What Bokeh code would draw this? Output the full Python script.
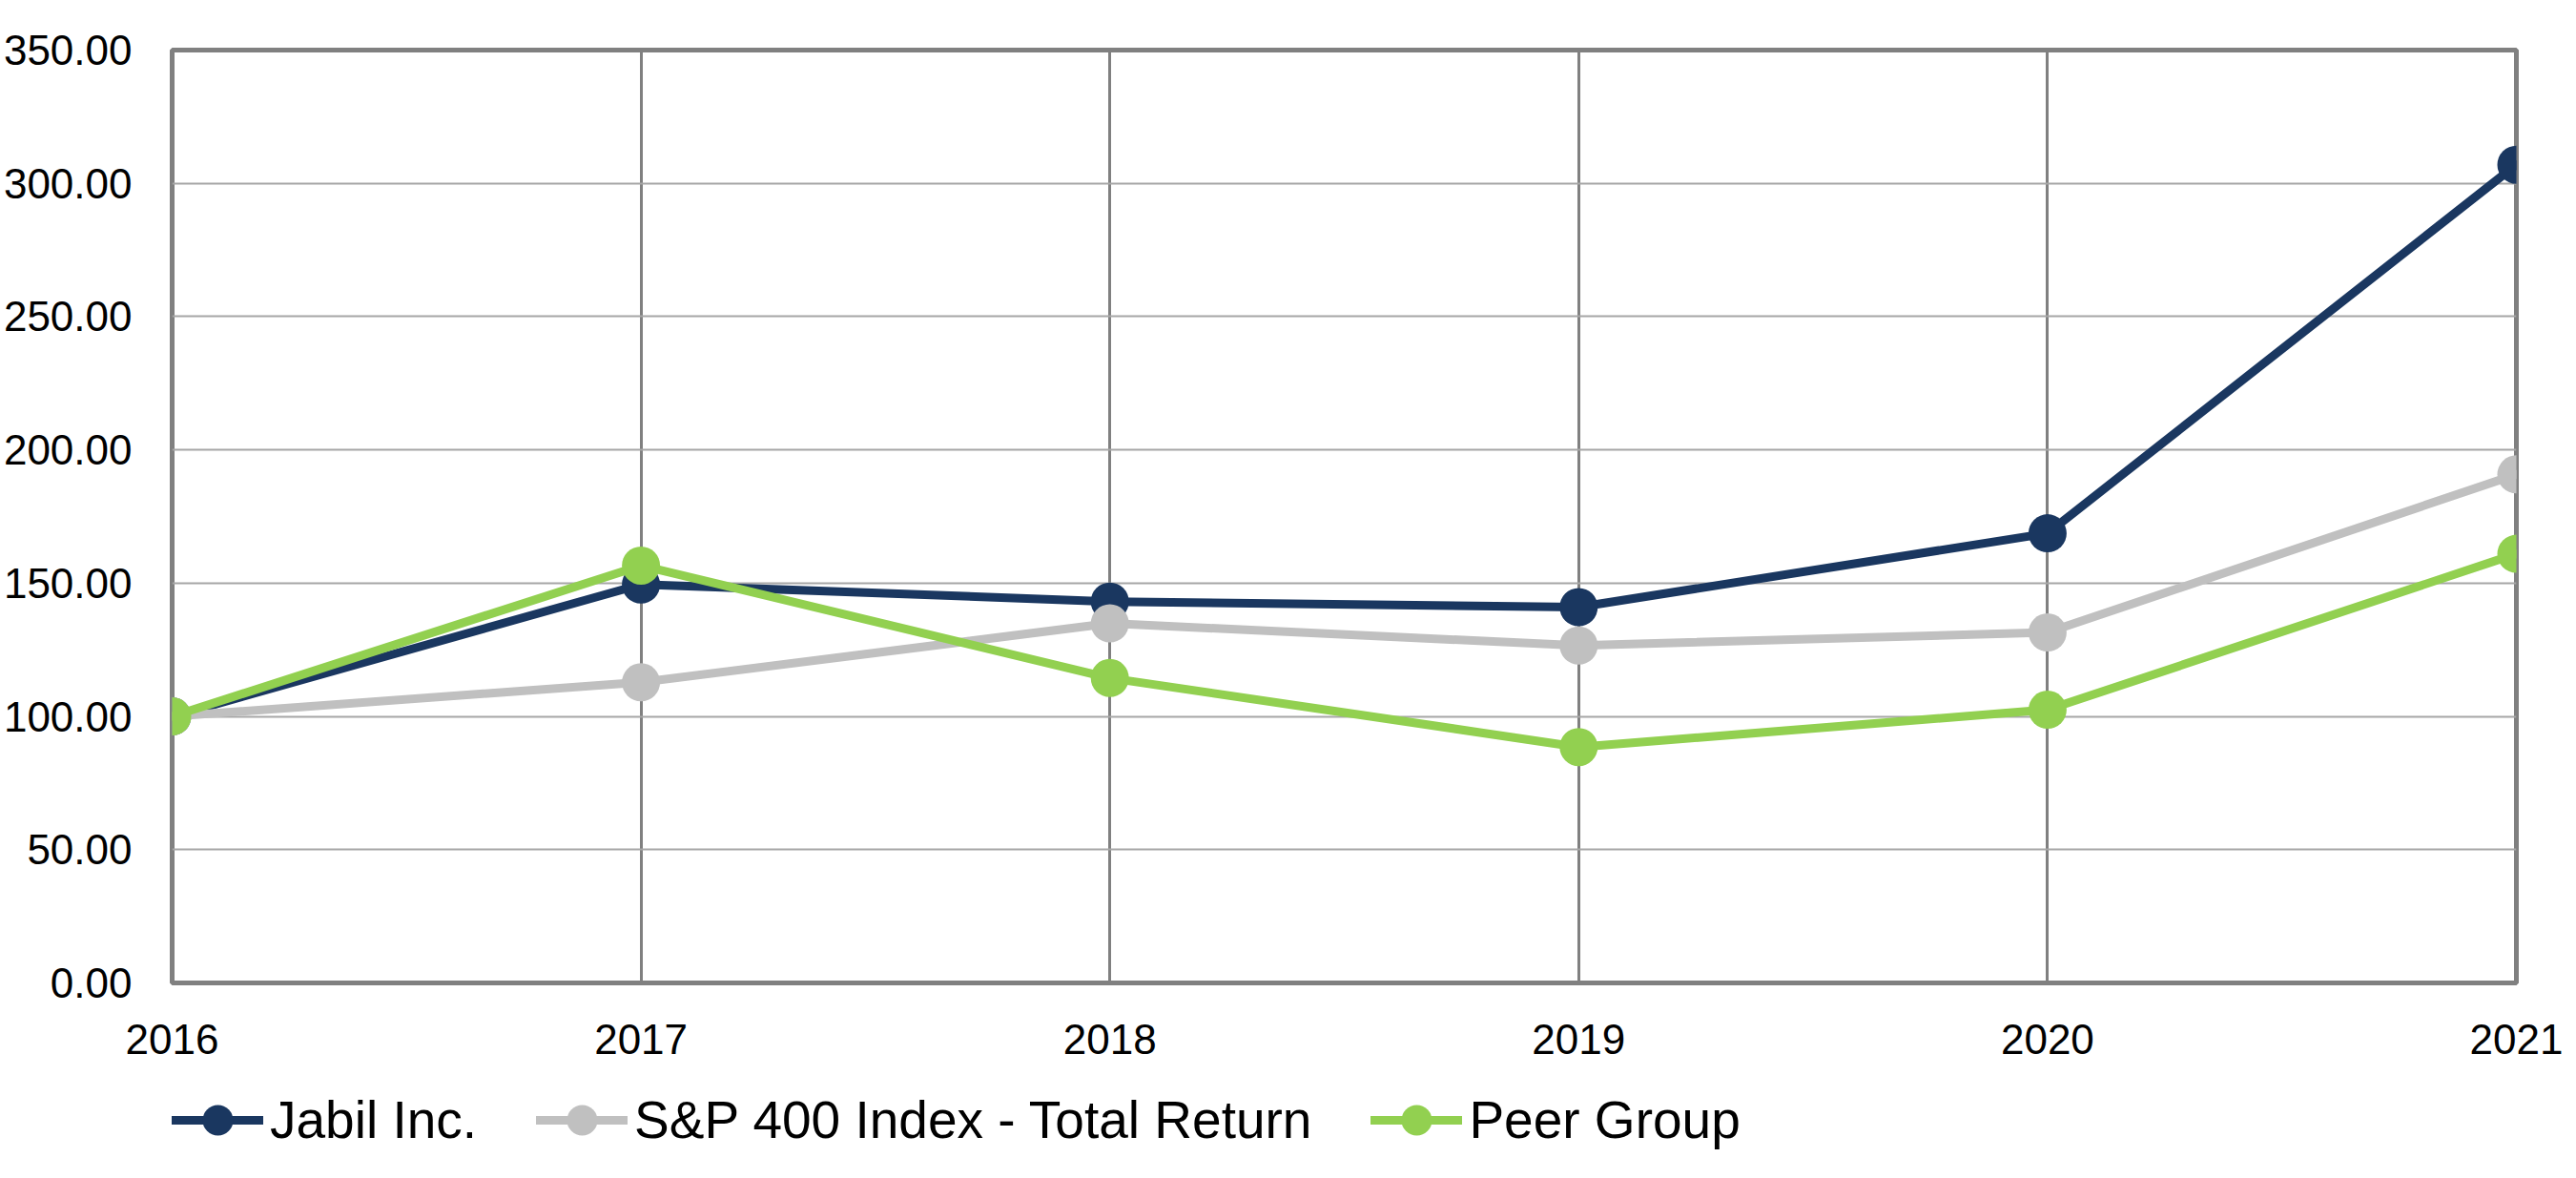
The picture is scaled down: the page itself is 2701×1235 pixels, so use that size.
from bokeh.plotting import figure
from bokeh.layouts import column
from bokeh.models import FixedTicker, NumeralTickFormatter, Legend, LegendItem, Range1d
from bokeh.embed import file_html
from bokeh.resources import INLINE

years = [2016, 2017, 2018, 2019, 2020, 2021]
jabil = [100.0, 149.5, 143.1, 141.0, 168.7, 307.0]
sp400 = [100.0, 112.8, 134.9, 126.6, 131.5, 190.8]
peer = [100.0, 156.6, 114.4, 88.5, 102.5, 161.0]
y_ticks = [0, 50, 100, 150, 200, 250, 300, 350]
names = ["Jabil Inc.", "S&P 400 Index - Total Return", "Peer Group"]
colors = ["#1A3760", "#C0C0C0", "#92D050"]

FONT = "Liberation Sans"
LW = 9
MS = 40

p = figure(frame_width=2458, frame_height=978, output_backend="svg", toolbar_location=None,
           x_range=Range1d(2016, 2021), y_range=Range1d(0, 350),
           min_border_left=176, min_border_right=51, min_border_top=52, min_border_bottom=98)

p.outline_line_color = "#808080"
p.outline_line_width = 5
p.background_fill_color = "white"
p.border_fill_color = "white"

p.xgrid.grid_line_color = "#808080"
p.xgrid.grid_line_width = 3
p.ygrid.grid_line_color = "#A6A6A6"
p.ygrid.grid_line_width = 2

xa = p.xaxis[0]
ya = p.yaxis[0]
xa.ticker = FixedTicker(ticks=years)
ya.ticker = FixedTicker(ticks=y_ticks)
ya.formatter = NumeralTickFormatter(format="0.00")
for ax in (xa, ya):
    ax.axis_line_color = None
    ax.major_tick_line_color = None
    ax.minor_tick_line_color = None
    ax.major_tick_out = 0
    ax.major_tick_in = 0
    ax.major_label_text_font = FONT
    ax.major_label_text_font_size = "44px"
    ax.major_label_text_color = "black"
ya.major_label_standoff = 42
xa.major_label_standoff = 43

for vals, col in zip([jabil, sp400, peer], colors):
    p.line(years, vals, line_color=col, line_width=LW, line_cap="round", line_join="round")
    p.scatter(years, vals, size=MS, fill_color=col, line_color=col, line_width=0)

# legend strip below the chart (sample glyphs sit outside its visible range)
lg = figure(width=2685, height=91, output_backend="svg", toolbar_location=None,
            x_range=Range1d(0, 1), y_range=Range1d(0, 1),
            min_border=0, min_border_left=0, min_border_right=0, min_border_top=0, min_border_bottom=0)
lg.axis.visible = False
lg.grid.visible = False
lg.outline_line_color = None
lg.background_fill_color = "white"
lg.border_fill_color = "white"

items = []
for name, col in zip(names, colors):
    lr = lg.line([-5, -4], [-5, -4], line_color=col, line_width=LW, line_cap="round")
    sr = lg.scatter([-5], [-5], size=MS, fill_color=col, line_color=col, line_width=0)
    items.append(LegendItem(label=name, renderers=[lr, sr]))

legend = Legend(items=items, orientation="horizontal", location=(0, 5),
                glyph_width=96, glyph_height=80, label_standoff=7, spacing=62,
                padding=0, margin=0, border_line_color=None, background_fill_alpha=0,
                label_text_font=FONT, label_text_font_size="55px", label_text_color="black")
lg.add_layout(legend, "center")

layout = column(p, lg, spacing=0)
open("out.html", "w").write(file_html(layout, INLINE))
